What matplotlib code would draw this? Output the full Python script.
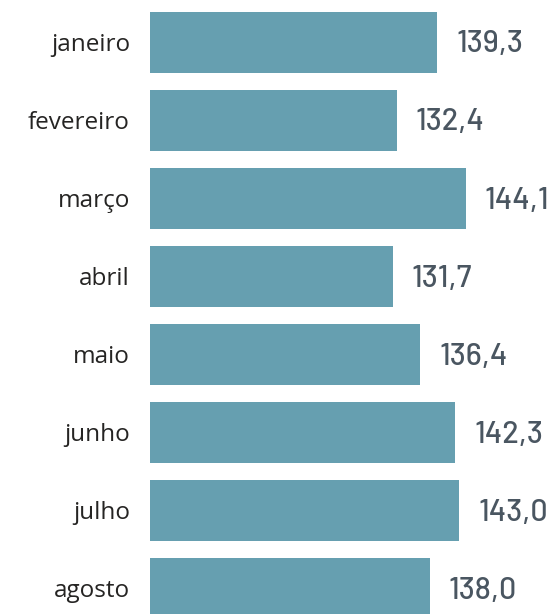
import matplotlib.pyplot as plt

meses = ['janeiro', 'fevereiro', 'março', 'abril', 'maio', 'junho', 'julho', 'agosto']
valores = [139.3, 132.4, 144.1, 131.7, 136.4, 142.3, 143.0, 138.0]

fig = plt.figure(figsize=(5.52, 6.14), dpi=100)
ax = fig.add_axes([150/552, 0, 1 - 150/552, 1])

y = list(range(len(meses)))
ax.barh(y, valores, height=0.78, color='#669fb0')

for yi, v in zip(y, valores):
    ax.text(v + 3.2, yi + 0.03, f'{v:.1f}'.replace('.', ','), va='center', ha='left',
            fontsize=22, fontweight='medium', color='#4a5661',
            family=['Barlow', 'Roboto', 'DejaVu Sans'])

ax.set_xlim(90.5, 158.75)
ax.set_ylim(7.33, -0.54)
ax.set_yticks(y)
ax.set_yticklabels(meses, fontsize=17.5, color='#252423', family=['Open Sans', 'DejaVu Sans'])
ax.tick_params(axis='y', length=0, pad=14.4)
ax.set_xticks([])
for s in ax.spines.values():
    s.set_visible(False)

fig.savefig('out.png', dpi=100)
